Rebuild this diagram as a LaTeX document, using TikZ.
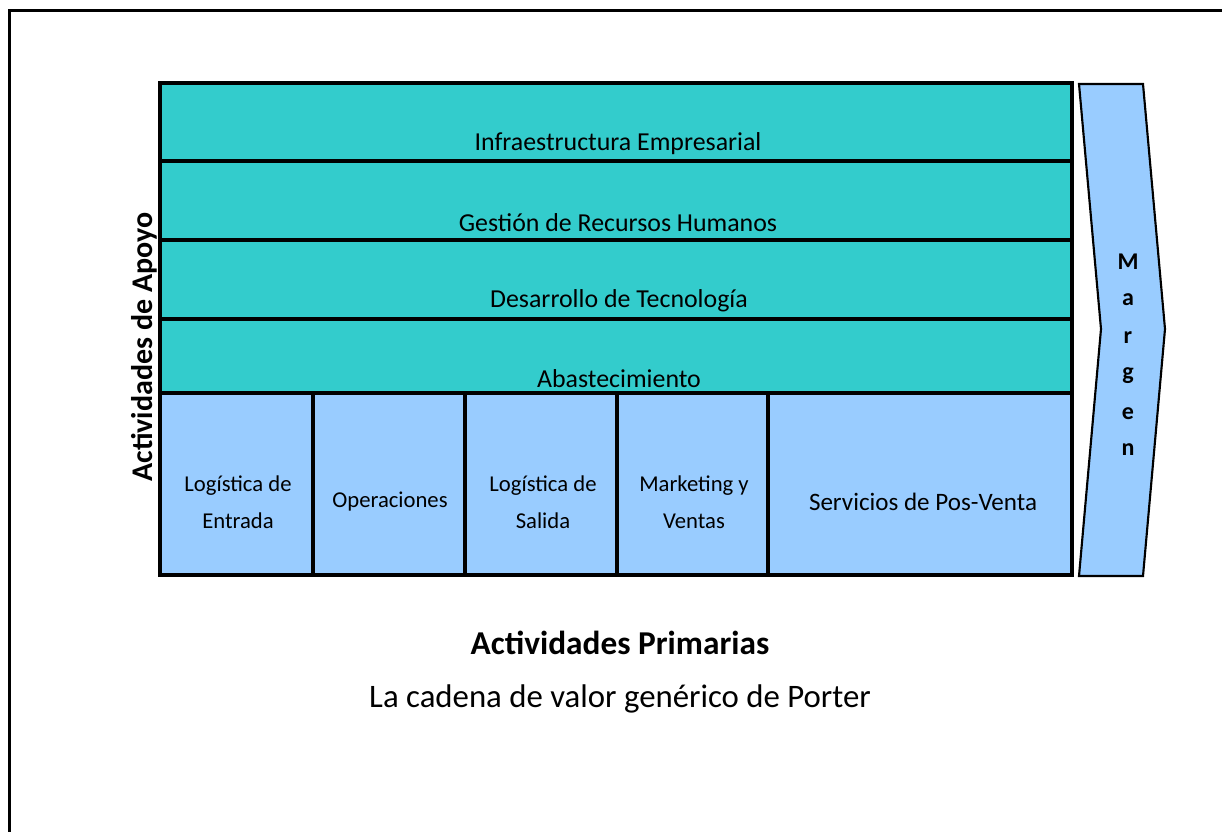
\documentclass[tikz,border=0pt]{standalone}
\usepackage{fontspec}
\setmainfont{Carlito}
\usetikzlibrary{fit}
\definecolor{supp}{HTML}{33CCCC}
\definecolor{prim}{HTML}{99CCFF}
\begin{document}
\begin{tikzpicture}[x=0.75pt,y=-0.75pt,
  supportbox/.style={draw=black,line width=2.5pt,fill=supp,inner sep=0pt,fit=#1},
  primbox/.style={draw=black,line width=2.5pt,fill=prim,inner sep=0pt,fit=#1},
  bandtext/.style={font=\fontsize{19.4}{21}\selectfont,inner sep=0pt},
  coltext/.style={font=\fontsize{17}{28}\selectfont,inner sep=0pt,align=center},
  margenletter/.style={font=\bfseries\fontsize{18}{20}\selectfont,inner sep=0pt}]
\useasboundingbox (0,0) rectangle (1222,832);
\clip (0,0) rectangle (1222,832);
% outer frame
\draw[line width=2.4pt] (9.5,10.5) rectangle (1260,900);
% corner coordinates
\coordinate (s0w) at (160,83);
\coordinate (s1w) at (160,161);
\coordinate (s2w) at (160,240);
\coordinate (s3w) at (160,319);
\coordinate (s4w) at (160,393);
\coordinate (s1e) at (1072,161);
\coordinate (s2e) at (1072,240);
\coordinate (s3e) at (1072,319);
\coordinate (s4e) at (1072,393);
% support bands
\node[supportbox={(s0w)(s1e)}] (infra) {};
\node[supportbox={(s1w)(s2e)}] (rrhh) {};
\node[supportbox={(s2w)(s3e)}] (tecno) {};
\node[supportbox={(s3w)(s4e)}] (abast) {};
% primary columns
\coordinate (p0) at (160,393);
\coordinate (p1) at (313,393);
\coordinate (p2) at (465,393);
\coordinate (p3) at (617,393);
\coordinate (p4) at (768,393);
\coordinate (q1) at (313,575);
\coordinate (q2) at (465,575);
\coordinate (q3) at (617,575);
\coordinate (q4) at (768,575);
\coordinate (q5) at (1072,575);
\node[primbox={(p0)(q1)}] (log1) {};
\node[primbox={(p1)(q2)}] (oper) {};
\node[primbox={(p2)(q3)}] (log2) {};
\node[primbox={(p3)(q4)}] (mkt) {};
\node[primbox={(p4)(q5)}] (serv) {};
% band texts
\node[bandtext] (tinfra) at (618,144) {Infraestructura Empresarial};
\node[bandtext] (trrhh) at (618,223) {Gestión de Recursos Humanos};
\node[bandtext] (ttecno) at (619,301) {Desarrollo de Tecnología};
\node[bandtext] (tabast) at (619,379) {Abastecimiento};
% column texts
\node[coltext] (tlog1) at (238,502) {Logística de\\Entrada};
\node[coltext] (toper) at (390,502) {Operaciones};
\node[coltext] (tlog2) at (543,502) {Logística de\\Salida};
\node[coltext] (tmkt) at (694,502) {Marketing y\\Ventas};
\node[coltext,font=\fontsize{18.8}{20}\selectfont] (tserv) at (923,502) {Servicios de Pos-Venta};
% margin chevron
\draw[line width=1.6pt,fill=prim] (1079,84) -- (1143,84) -- (1165,329) -- (1143,576) -- (1079,576) -- (1101,329) -- cycle;
\node[margenletter] (m1) at (1128,262) {M};
\node[margenletter] (m2) at (1128,300) {a};
\node[margenletter] (m3) at (1128,338) {r};
\node[margenletter] (m4) at (1128,376) {g};
\node[margenletter] (m5) at (1128,414) {e};
\node[margenletter] (m6) at (1128,450) {n};
% side label
\node[rotate=90,font=\bfseries\fontsize{22.5}{24}\selectfont,inner sep=0pt] (apoyo) at (144,347) {Actividades de Apoyo};
% bottom titles
\node[font=\bfseries\fontsize{25}{27}\selectfont,inner sep=0pt] (prim) at (620,643) {Actividades Primarias};
\node[font=\fontsize{24.6}{26}\selectfont,inner sep=0pt] (title) at (620,699) {La cadena de valor genérico de Porter};
\end{tikzpicture}
\end{document}
